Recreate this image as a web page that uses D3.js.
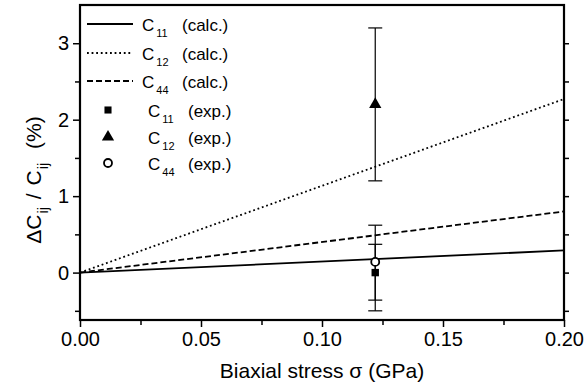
<!DOCTYPE html>
<html>
<head>
<meta charset="utf-8">
<script src="https://cdn.jsdelivr.net/npm/d3@7"></script>
<style>
body { margin: 0; background: #fff; }
text { font-family: "Liberation Sans", Arial, sans-serif; fill: #000; }
</style>
</head>
<body>
<div id="chart"></div>
<script>
// calculated curves (stress in GPa, change in %)
var stress = [0, 0.2];
var calcC11 = [0, 0.29];
var calcC12 = [0, 2.27];
var calcC44 = [0, 0.80];

// measured points
var expStress = 0.122;
var expC11 = { v: 0.0, lo: -0.5, hi: 0.37 };
var expC12 = { v: 2.2, lo: 1.2, hi: 3.2 };
var expC44 = { v: 0.14, lo: -0.36, hi: 0.62 };

var xTicks = [0, 0.05, 0.1, 0.15, 0.2];
var yTicks = [0, 1, 2, 3];

var width = 585, height = 390;
var pLeft = 80, pRight = 564, pTop = 5, pBottom = 320;

var svg = d3.select("#chart")
	.append("svg")
	.attr("width", width)
	.attr("height", height);

var x = d3.scaleLinear().domain([0, 0.2]).range([pLeft, pRight]);
var y = d3.scaleLinear().domain([-0.62, 3.5]).range([pBottom, pTop]);

// axes
var xAxis = d3.axisBottom(x).tickValues(xTicks).tickFormat(d3.format(".2f")).tickSize(7).tickPadding(5);
var xMinor = d3.axisBottom(x).tickValues(d3.range(0.025, 0.2, 0.05)).tickFormat("").tickSize(5);
var yAxis = d3.axisLeft(y).tickValues(yTicks).tickFormat(d3.format("d")).tickSize(7).tickPadding(4);
var yMinor = d3.axisLeft(y).tickValues([-0.5, 0.5, 1.5, 2.5]).tickFormat("").tickSize(5);
var yRight = d3.axisRight(y).tickValues(d3.range(-0.5, 3.1, 0.5)).tickFormat("").tickSize(5);

function styleAxis(g)
{
	g.select(".domain").remove();
	g.selectAll("line").attr("stroke", "#000").attr("stroke-width", 1.5);
	g.selectAll("text").style("font-size", "20px").attr("fill", "#000");
}

svg.append("g").attr("transform", "translate(0," + pBottom + ")").call(xAxis).call(styleAxis);
svg.append("g").attr("transform", "translate(0," + pBottom + ")").call(xMinor).call(styleAxis);
svg.append("g").attr("transform", "translate(" + pLeft + ",0)").call(yAxis).call(styleAxis);
svg.append("g").attr("transform", "translate(" + pLeft + ",0)").call(yMinor).call(styleAxis);
svg.append("g").attr("transform", "translate(" + pRight + ",0)").call(yRight).call(styleAxis);

// frame
svg.append("rect")
	.attr("x", pLeft).attr("y", pTop)
	.attr("width", pRight - pLeft).attr("height", pBottom - pTop)
	.attr("fill", "none").attr("stroke", "#000").attr("stroke-width", 2.2);

// calc lines
var line = d3.line().x(function(d) { return x(d[0]); }).y(function(d) { return y(d[1]); });
var calcSeries = [
	{ vals: calcC11, dash: null },
	{ vals: calcC12, dash: "1.8,2.8" },
	{ vals: calcC44, dash: "6,3" }
];
calcSeries.forEach(function(s)
{
	svg.append("path")
		.datum(stress.map(function(sx, i) { return [sx, s.vals[i]]; }))
		.attr("d", line)
		.attr("fill", "none")
		.attr("stroke", "#000")
		.attr("stroke-width", 1.8)
		.attr("stroke-dasharray", s.dash);
});

// error bars
[expC11, expC12, expC44].forEach(function(p)
{
	var cx = x(expStress);
	svg.append("line").attr("x1", cx).attr("x2", cx).attr("y1", y(p.lo)).attr("y2", y(p.hi))
		.attr("stroke", "#000").attr("stroke-width", 1.2);
	[p.lo, p.hi].forEach(function(v)
	{
		svg.append("line").attr("x1", cx - 7).attr("x2", cx + 7).attr("y1", y(v)).attr("y2", y(v))
			.attr("stroke", "#000").attr("stroke-width", 1.2);
	});
});

// markers
var sym = d3.symbol();
svg.append("path")
	.attr("d", sym.type(d3.symbolSquare).size(55)())
	.attr("transform", "translate(" + x(expStress) + "," + y(expC11.v) + ")")
	.attr("fill", "#000");
svg.append("path")
	.attr("d", sym.type(d3.symbolTriangle).size(65)())
	.attr("transform", "translate(" + x(expStress) + "," + y(expC12.v) + ")")
	.attr("fill", "#000");
svg.append("circle")
	.attr("cx", x(expStress)).attr("cy", y(expC44.v)).attr("r", 4)
	.attr("fill", "#fff").attr("stroke", "#000").attr("stroke-width", 1.8);

// legend
var legendRows = [
	{ sub: "11", label: "(calc.)", kind: "line", dash: null },
	{ sub: "12", label: "(calc.)", kind: "line", dash: "1.8,2.8" },
	{ sub: "44", label: "(calc.)", kind: "line", dash: "6,3" },
	{ sub: "11", label: "(exp.)", kind: "square" },
	{ sub: "12", label: "(exp.)", kind: "triangle" },
	{ sub: "44", label: "(exp.)", kind: "circle" }
];
var rowY = [24, 53, 81, 110, 137, 163];
legendRows.forEach(function(r, i)
{
	var ly = rowY[i];
	var tx = r.kind == "line" ? 142 : 148;
	if (r.kind == "line")
	{
		svg.append("line").attr("x1", 87).attr("x2", 133).attr("y1", ly).attr("y2", ly)
			.attr("stroke", "#000").attr("stroke-width", 1.8).attr("stroke-dasharray", r.dash);
	}
	else if (r.kind == "circle")
	{
		svg.append("circle").attr("cx", 108).attr("cy", ly).attr("r", 4)
			.attr("fill", "#fff").attr("stroke", "#000").attr("stroke-width", 1.8);
	}
	else
	{
		svg.append("path")
			.attr("d", sym.type(r.kind == "square" ? d3.symbolSquare : d3.symbolTriangle).size(r.kind == "square" ? 50 : 65)())
			.attr("transform", "translate(108," + ly + ")")
			.attr("fill", "#000");
	}
	var t = svg.append("text").attr("x", tx).attr("y", ly + 6.5).style("font-size", "17px");
	t.append("tspan").text("C");
	t.append("tspan").attr("dx", 2).attr("dy", 6.5).style("font-size", "11px").text(r.sub);
	svg.append("text").attr("x", tx + 40).attr("y", ly + 6.5).style("font-size", "17px").text(r.label);
});

// axis titles
svg.append("text")
	.attr("x", (pLeft + pRight) / 2).attr("y", 378)
	.attr("text-anchor", "middle")
	.style("font-size", "21px")
	.text("Biaxial stress σ (GPa)");

var yt = svg.append("text")
	.attr("transform", "translate(41,180) rotate(-90)")
	.attr("text-anchor", "middle")
	.style("font-size", "21px");
yt.append("tspan").text("ΔC");
yt.append("tspan").attr("dx", 1).attr("dy", 7).style("font-size", "14px").text("ij");
yt.append("tspan").attr("dx", 8).attr("dy", -7).text("/");
yt.append("tspan").attr("dx", 8).text("C");
yt.append("tspan").attr("dx", 1).attr("dy", 7).style("font-size", "14px").text("ij");
yt.append("tspan").attr("dx", 14).attr("dy", -7).text("(%)");
</script>
</body>
</html>
